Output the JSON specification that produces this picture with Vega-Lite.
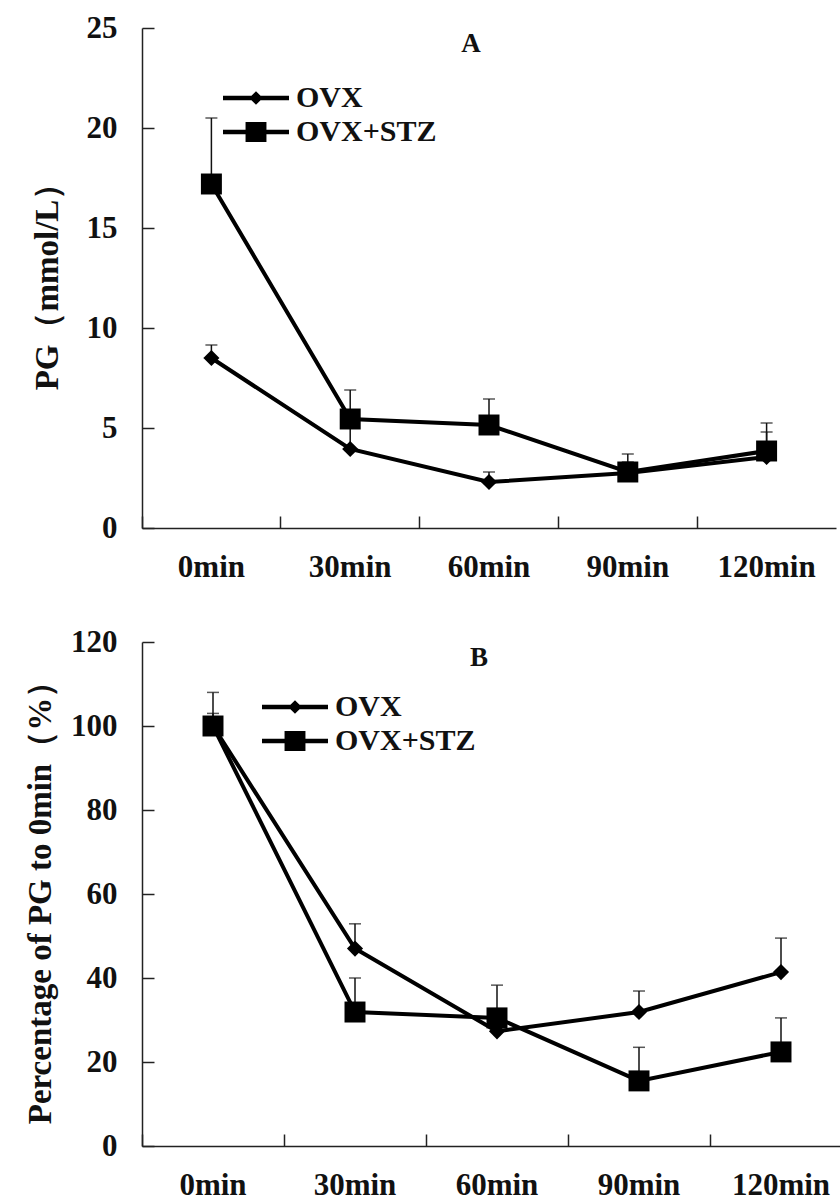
{
  "$schema": "https://vega.github.io/schema/vega-lite/v6.json",
  "background": "white",
  "padding": {"left": 24, "top": 12, "right": 0, "bottom": 0},
  "config": {
    "view": {"stroke": null},
    "font": "Liberation Serif",
    "axis": {
      "grid": false,
      "domainColor": "#222",
      "domainWidth": 1.5,
      "tickColor": "#222",
      "tickWidth": 1.5,
      "labelFont": "Liberation Serif",
      "labelFontWeight": "bold",
      "labelFontSize": 31,
      "labelColor": "#111",
      "titleFont": "Liberation Serif",
      "titleFontWeight": "bold",
      "titleFontSize": 33,
      "titleColor": "#111"
    }
  },
  "datasets": {
    "pg": [
      {"time": "0min", "group": "OVX", "mean": 8.5, "upper": 9.15},
      {"time": "30min", "group": "OVX", "mean": 3.95, "upper": 5.3},
      {"time": "60min", "group": "OVX", "mean": 2.3, "upper": 2.8},
      {"time": "90min", "group": "OVX", "mean": 2.75, "upper": 3.3},
      {"time": "120min", "group": "OVX", "mean": 3.55, "upper": 4.8},
      {"time": "0min", "group": "OVX+STZ", "mean": 17.2, "upper": 20.5},
      {"time": "30min", "group": "OVX+STZ", "mean": 5.45, "upper": 6.9},
      {"time": "60min", "group": "OVX+STZ", "mean": 5.15, "upper": 6.45},
      {"time": "90min", "group": "OVX+STZ", "mean": 2.8, "upper": 3.7},
      {"time": "120min", "group": "OVX+STZ", "mean": 3.85, "upper": 5.25}
    ],
    "pct": [
      {"time": "0min", "group": "OVX", "mean": 100, "upper": 108},
      {"time": "30min", "group": "OVX", "mean": 47, "upper": 52.9},
      {"time": "60min", "group": "OVX", "mean": 27.3, "upper": 31},
      {"time": "90min", "group": "OVX", "mean": 31.9, "upper": 36.9},
      {"time": "120min", "group": "OVX", "mean": 41.4, "upper": 49.5},
      {"time": "0min", "group": "OVX+STZ", "mean": 100, "upper": 103},
      {"time": "30min", "group": "OVX+STZ", "mean": 31.9, "upper": 40},
      {"time": "60min", "group": "OVX+STZ", "mean": 30.5, "upper": 38.3},
      {"time": "90min", "group": "OVX+STZ", "mean": 15.5, "upper": 23.5},
      {"time": "120min", "group": "OVX+STZ", "mean": 22.4, "upper": 30.5}
    ]
  },
  "resolve": {"scale": {"shape": "independent"}, "legend": {"shape": "independent"}},
  "spacing": 44,
  "vconcat": [
    {
      "width": 694,
      "height": 500,
      "data": {"name": "pg"},
      "title": {"text": "A", "font": "Liberation Serif", "fontSize": 27, "fontWeight": "bold", "color": "#111", "anchor": "middle", "frame": "group", "offset": -46, "dx": -18},
      "encoding": {
        "x": {
          "field": "time", "type": "ordinal",
          "sort": ["0min", "30min", "60min", "90min", "120min"],
          "scale": {"type": "band", "paddingInner": 0, "paddingOuter": 0},
          "axis": {"title": null, "labelAngle": 0, "bandPosition": 0, "tickSize": -12, "labelPadding": 36}
        }
      },
      "layer": [
        {
          "mark": {"type": "rule", "color": "#111", "strokeWidth": 1.5},
          "encoding": {
            "y": {"field": "mean", "type": "quantitative", "scale": {"domain": [0, 25], "nice": false},
              "axis": {"title": "PG（mmol/L）", "values": [0, 5, 10, 15, 20, 25], "tickSize": -12, "labelPadding": 37, "titlePadding": 22}},
            "y2": {"field": "upper"}
          }
        },
        {
          "mark": {"type": "tick", "color": "#111", "thickness": 1.5, "size": 12},
          "encoding": {"y": {"field": "upper", "type": "quantitative", "scale": {"domain": [0, 25], "nice": false}}}
        },
        {
          "mark": {"type": "line", "color": "black", "strokeWidth": 4},
          "encoding": {"y": {"field": "mean", "type": "quantitative", "scale": {"domain": [0, 25], "nice": false}}, "detail": {"field": "group"}}
        },
        {
          "transform": [{"filter": "datum.group === 'OVX'"}],
          "mark": {"type": "point", "shape": "diamond", "filled": true, "color": "black", "opacity": 1, "size": 260},
          "encoding": {"y": {"field": "mean", "type": "quantitative", "scale": {"domain": [0, 25], "nice": false}}}
        },
        {
          "transform": [{"filter": "datum.group === 'OVX+STZ'"}],
          "mark": {"type": "point", "shape": "square", "filled": true, "color": "black", "opacity": 1, "size": 440},
          "encoding": {"y": {"field": "mean", "type": "quantitative", "scale": {"domain": [0, 25], "nice": false}}}
        },
        {
          "transform": [{"filter": "false"}],
          "mark": {"type": "point", "filled": true, "color": "black", "opacity": 1},
          "encoding": {
            "y": {"field": "mean", "type": "quantitative", "scale": {"domain": [0, 25], "nice": false}},
            "shape": {
              "field": "group", "type": "nominal",
              "scale": {"domain": ["OVX", "OVX+STZ"], "range": ["M-3,-0.2H3V0.2H-3Z M0,-0.62L0.62,0L0,0.62L-0.62,0Z", "M-3,-0.2H3V0.2H-3Z M-0.95,-0.9H0.95V0.9H-0.95Z"]},
              "legend": {"title": null, "orient": "none", "legendX": 99, "legendY": 55, "symbolSize": 484, "symbolFillColor": "black", "symbolStrokeWidth": 0, "labelFont": "Liberation Serif", "labelFontSize": 30, "labelFontWeight": "bold", "labelColor": "#111", "labelOffset": 25, "rowPadding": 4}
            }
          }
        }
      ]
    },
    {
      "width": 710,
      "height": 504,
      "data": {"name": "pct"},
      "title": {"text": "B", "font": "Liberation Serif", "fontSize": 27, "fontWeight": "bold", "color": "#111", "anchor": "middle", "frame": "group", "offset": -46, "dx": -18},
      "encoding": {
        "x": {
          "field": "time", "type": "ordinal",
          "sort": ["0min", "30min", "60min", "90min", "120min"],
          "scale": {"type": "band", "paddingInner": 0, "paddingOuter": 0},
          "axis": {"title": null, "labelAngle": 0, "bandPosition": 0, "tickSize": -12, "labelPadding": 36}
        }
      },
      "layer": [
        {
          "mark": {"type": "rule", "color": "#111", "strokeWidth": 1.5},
          "encoding": {
            "y": {"field": "mean", "type": "quantitative", "scale": {"domain": [0, 120], "nice": false},
              "axis": {"title": "Percentage of PG to 0min（%）", "values": [0, 20, 40, 60, 80, 100, 120], "tickSize": -12, "labelPadding": 37, "titlePadding": 13}},
            "y2": {"field": "upper"}
          }
        },
        {
          "mark": {"type": "tick", "color": "#111", "thickness": 1.5, "size": 12},
          "encoding": {"y": {"field": "upper", "type": "quantitative", "scale": {"domain": [0, 120], "nice": false}}}
        },
        {
          "mark": {"type": "line", "color": "black", "strokeWidth": 4},
          "encoding": {"y": {"field": "mean", "type": "quantitative", "scale": {"domain": [0, 120], "nice": false}}, "detail": {"field": "group"}}
        },
        {
          "transform": [{"filter": "datum.group === 'OVX'"}],
          "mark": {"type": "point", "shape": "diamond", "filled": true, "color": "black", "opacity": 1, "size": 260},
          "encoding": {"y": {"field": "mean", "type": "quantitative", "scale": {"domain": [0, 120], "nice": false}}}
        },
        {
          "transform": [{"filter": "datum.group === 'OVX+STZ'"}],
          "mark": {"type": "point", "shape": "square", "filled": true, "color": "black", "opacity": 1, "size": 440},
          "encoding": {"y": {"field": "mean", "type": "quantitative", "scale": {"domain": [0, 120], "nice": false}}}
        },
        {
          "transform": [{"filter": "false"}],
          "mark": {"type": "point", "filled": true, "color": "black", "opacity": 1},
          "encoding": {
            "y": {"field": "mean", "type": "quantitative", "scale": {"domain": [0, 120], "nice": false}},
            "shape": {
              "field": "group", "type": "nominal",
              "scale": {"domain": ["OVX", "OVX+STZ"], "range": ["M-3,-0.2H3V0.2H-3Z M0,-0.62L0.62,0L0,0.62L-0.62,0Z", "M-3,-0.2H3V0.2H-3Z M-0.95,-0.9H0.95V0.9H-0.95Z"]},
              "legend": {"title": null, "orient": "none", "legendX": 138, "legendY": 50, "symbolSize": 484, "symbolFillColor": "black", "symbolStrokeWidth": 0, "labelFont": "Liberation Serif", "labelFontSize": 30, "labelFontWeight": "bold", "labelColor": "#111", "labelOffset": 25, "rowPadding": 4}
            }
          }
        }
      ]
    }
  ]
}
